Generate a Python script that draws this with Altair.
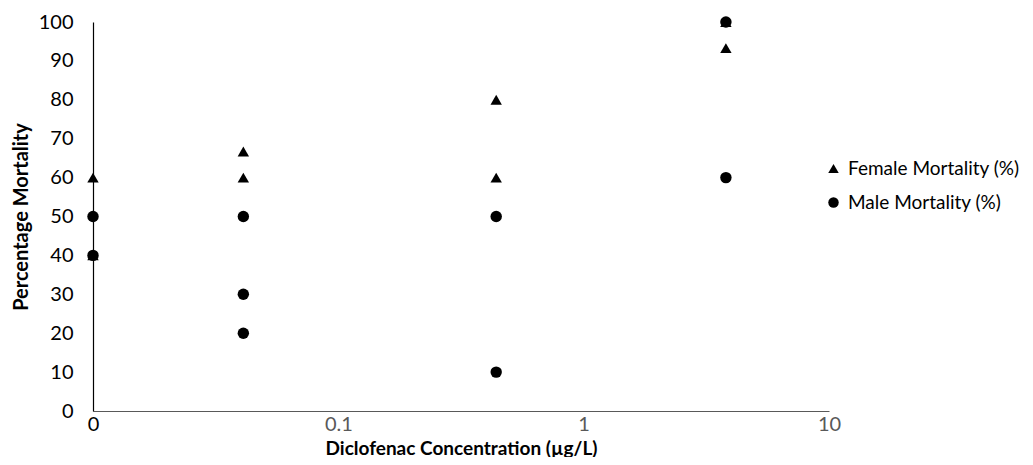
import altair as alt
import pandas as pd

female_x = [0.01, 0.01, 0.041, 0.041, 0.44, 0.44, 3.8, 3.8]
female_y = [60, 40, 66.7, 60, 80, 60, 100, 93.3]
male_x = [0.01, 0.01, 0.041, 0.041, 0.041, 0.44, 0.44, 3.8, 3.8]
male_y = [50, 40, 50, 30, 20, 50, 10, 100, 60]
series = ["Female Mortality (%)", "Male Mortality (%)"]
x_ticks = [0.01, 0.1, 1, 10]
y_ticks = list(range(0, 101, 10))

df = pd.DataFrame(
    {
        "conc": female_x + male_x,
        "mort": female_y + male_y,
        "series": [series[0]] * len(female_x) + [series[1]] * len(male_x),
        "order": [0] * len(female_x) + [1] * len(male_x),
    }
)

FONT = "Lato"

chart = (
    alt.Chart(df)
    .mark_point(filled=True, opacity=1, color="black", size=130)
    .encode(
        x=alt.X(
            "conc:Q",
            scale=alt.Scale(type="log", domain=[0.01, 10], nice=False),
            axis=alt.Axis(
                values=x_ticks,
                title="Diclofenac Concentration (µg/L)",
                labelExpr="datum.value == 0.01 ? '0' : datum.label",
                labelColor={"expr": "datum.value == 0.01 ? '#000000' : '#595959'"},
                labelFlush=False,
                grid=False,
                ticks=False,
                domainColor="#595959",
                domainWidth=1.2,
                labelFontSize=20,
                labelFont=FONT,
                labelPadding=3,
                titleFont=FONT,
                titleFontSize=19,
                titleFontWeight="bold",
                titleColor="#000000",
                titlePadding=5,
            ),
        ),
        y=alt.Y(
            "mort:Q",
            scale=alt.Scale(domain=[0, 100], nice=False),
            axis=alt.Axis(
                values=y_ticks,
                title="Percentage Mortality",
                grid=False,
                ticks=False,
                domainColor="#000000",
                domainWidth=1.2,
                labelFontSize=20,
                labelFont=FONT,
                labelColor="#000000",
                labelPadding=20,
                titleFont=FONT,
                titleFontSize=20,
                titleFontWeight="bold",
                titleColor="#000000",
                titlePadding=7,
            ),
        ),
        shape=alt.Shape(
            "series:N",
            scale=alt.Scale(domain=series, range=["triangle-up", "circle"]),
            legend=alt.Legend(
                title=None,
                orient="none",
                legendX=731,
                legendY=137,
                labelFont=FONT,
                labelFontSize=19,
                labelLimit=400,
                labelColor="#000000",
                symbolFillColor="black",
                symbolStrokeColor="black",
                symbolSize=110,
                rowPadding=14,
                labelOffset=5,
            ),
        ),
        order=alt.Order("order:Q"),
    )
    .properties(
        width=736,
        height=389,
        background="white",
        autosize=alt.AutoSizeParams(type="none"),
        padding={"left": 85, "top": 14, "right": 196, "bottom": 46},
    )
    .configure_view(strokeWidth=0, stroke="transparent")
)

chart.save("out.html", embed_options={"renderer": "svg", "actions": False})
